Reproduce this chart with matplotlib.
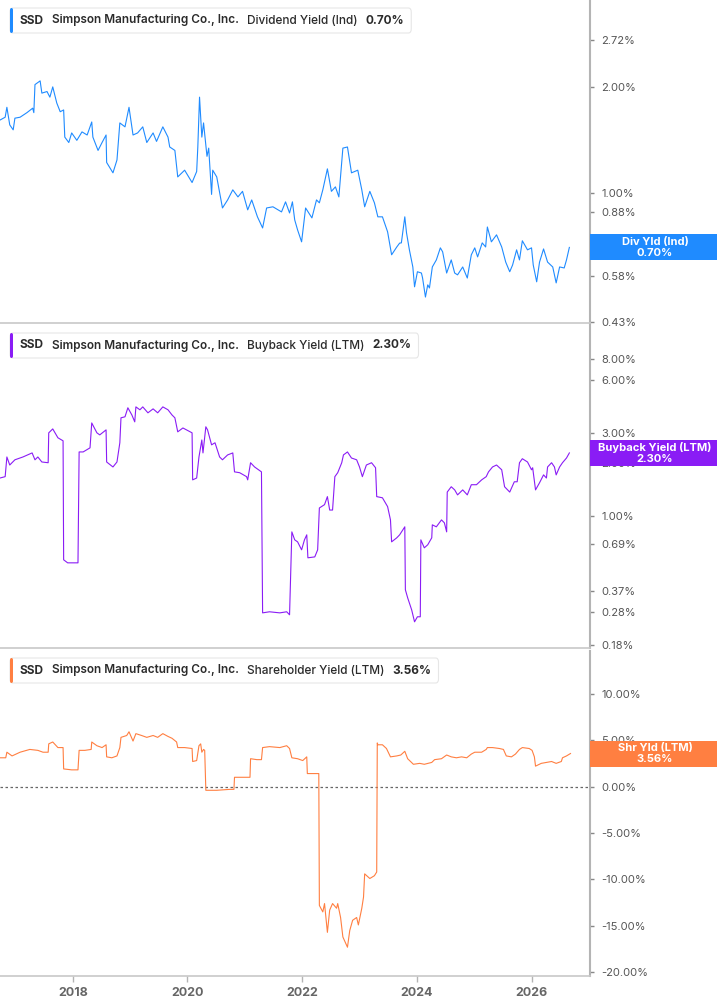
import matplotlib
matplotlib.use('Agg')
import matplotlib.pyplot as plt
from matplotlib.patches import FancyBboxPatch, Rectangle
from matplotlib.ticker import FixedLocator, NullLocator

plt.rcParams['font.family'] = ['Inter', 'DejaVu Sans']

# 股息率 (Ind), %
div_years = [2016.73, 2016.82, 2016.85, 2016.90, 2016.96, 2016.99, 2017.08, 2017.20, 2017.30, 2017.32,
             2017.34, 2017.43, 2017.46, 2017.55, 2017.60, 2017.65, 2017.72, 2017.78, 2017.84, 2017.86,
             2017.93, 2017.98, 2018.07, 2018.16, 2018.25, 2018.33, 2018.35, 2018.44, 2018.51, 2018.58,
             2018.59, 2018.70, 2018.77, 2018.82, 2018.91, 2018.98, 2019.05, 2019.13, 2019.22, 2019.29,
             2019.40, 2019.46, 2019.57, 2019.66, 2019.69, 2019.78, 2019.83, 2019.95, 2020.08, 2020.16,
             2020.18, 2020.21, 2020.25, 2020.28, 2020.34, 2020.37, 2020.42, 2020.44, 2020.51, 2020.61,
             2020.70, 2020.79, 2020.88, 2020.96, 2021.05, 2021.12, 2021.22, 2021.31, 2021.38, 2021.49,
             2021.64, 2021.71, 2021.78, 2021.83, 2021.87, 2021.92, 2021.99, 2022.06, 2022.17, 2022.25,
             2022.30, 2022.36, 2022.44, 2022.51, 2022.58, 2022.64, 2022.71, 2022.79, 2022.86, 2022.97,
             2023.04, 2023.09, 2023.18, 2023.26, 2023.32, 2023.40, 2023.49, 2023.56, 2023.65, 2023.70,
             2023.73, 2023.79, 2023.82, 2023.87, 2023.93, 2023.96, 2024.01, 2024.08, 2024.10, 2024.15,
             2024.19, 2024.22, 2024.27, 2024.34, 2024.41, 2024.45, 2024.52, 2024.60, 2024.66, 2024.71,
             2024.80, 2024.88, 2024.95, 2025.01, 2025.06, 2025.14, 2025.20, 2025.23, 2025.30, 2025.39,
             2025.48, 2025.55, 2025.62, 2025.67, 2025.74, 2025.79, 2025.84, 2025.93, 2026.00, 2026.03,
             2026.09, 2026.14, 2026.21, 2026.28, 2026.37, 2026.43, 2026.49, 2026.57, 2026.61, 2026.66]
div_vals = [1.61, 1.64, 1.75, 1.56, 1.51, 1.63, 1.64, 1.69, 1.74, 1.69,
            2.03, 2.08, 1.92, 1.94, 1.87, 2.00, 1.80, 1.70, 1.72, 1.44,
            1.39, 1.48, 1.41, 1.49, 1.46, 1.59, 1.44, 1.32, 1.39, 1.46,
            1.22, 1.14, 1.24, 1.58, 1.54, 1.75, 1.46, 1.48, 1.54, 1.39,
            1.48, 1.40, 1.54, 1.44, 1.35, 1.32, 1.11, 1.16, 1.07, 1.15,
            1.35, 1.87, 1.44, 1.58, 1.27, 1.34, 0.99, 1.16, 1.11, 0.906,
            0.955, 1.02, 0.974, 1.01, 0.895, 0.955, 0.855, 0.795, 0.906, 0.913,
            0.883, 0.943, 0.877, 0.943, 0.838, 0.785, 0.726, 0.906, 0.849, 0.955,
            0.937, 1.02, 1.17, 1.01, 1.04, 0.974, 1.34, 1.35, 1.14, 1.16,
            1.02, 0.913, 1.01, 0.937, 0.855, 0.855, 0.775, 0.667, 0.702, 0.72,
            0.721, 0.855, 0.770, 0.689, 0.616, 0.541, 0.597, 0.592, 0.573, 0.506,
            0.548, 0.537, 0.616, 0.645, 0.698, 0.680, 0.592, 0.645, 0.592, 0.585,
            0.616, 0.573, 0.667, 0.698, 0.658, 0.721, 0.702, 0.800, 0.726, 0.760,
            0.702, 0.636, 0.597, 0.624, 0.689, 0.645, 0.731, 0.689, 0.698, 0.624,
            0.559, 0.636, 0.693, 0.636, 0.616, 0.555, 0.616, 0.612, 0.645, 0.70]

# 回购收益率 (LTM), %
bb_years = [2016.73, 2016.82, 2016.85, 2016.90, 2016.99, 2017.13, 2017.29, 2017.34, 2017.39, 2017.46,
            2017.57, 2017.58, 2017.65, 2017.74, 2017.83, 2017.84, 2017.91, 2018.09, 2018.11, 2018.18,
            2018.30, 2018.33, 2018.42, 2018.47, 2018.58, 2018.59, 2018.70, 2018.77, 2018.82, 2018.84,
            2018.91, 2018.96, 2019.03, 2019.08, 2019.10, 2019.17, 2019.22, 2019.31, 2019.40, 2019.48,
            2019.57, 2019.66, 2019.73, 2019.78, 2019.83, 2019.92, 2020.08, 2020.09, 2020.16, 2020.20,
            2020.25, 2020.27, 2020.32, 2020.35, 2020.42, 2020.48, 2020.56, 2020.61, 2020.70, 2020.79,
            2020.82, 2020.91, 2021.03, 2021.05, 2021.10, 2021.17, 2021.29, 2021.31, 2021.43, 2021.61,
            2021.73, 2021.78, 2021.82, 2021.87, 2021.92, 2021.99, 2022.04, 2022.08, 2022.10, 2022.22,
            2022.27, 2022.30, 2022.39, 2022.44, 2022.48, 2022.53, 2022.57, 2022.62, 2022.69, 2022.72,
            2022.79, 2022.86, 2022.95, 2023.00, 2023.05, 2023.12, 2023.21, 2023.28, 2023.30, 2023.40,
            2023.49, 2023.54, 2023.56, 2023.65, 2023.70, 2023.79, 2023.80, 2023.84, 2023.91, 2023.96,
            2024.01, 2024.06, 2024.07, 2024.13, 2024.19, 2024.26, 2024.27, 2024.34, 2024.43, 2024.48,
            2024.52, 2024.53, 2024.60, 2024.66, 2024.71, 2024.80, 2024.88, 2024.95, 2025.04, 2025.13,
            2025.21, 2025.25, 2025.32, 2025.39, 2025.48, 2025.53, 2025.62, 2025.70, 2025.75, 2025.79,
            2025.84, 2025.93, 2026.00, 2026.02, 2026.07, 2026.14, 2026.21, 2026.26, 2026.28, 2026.35,
            2026.40, 2026.43, 2026.49, 2026.54, 2026.61, 2026.66]
bb_vals = [1.65, 1.68, 2.18, 1.96, 2.10, 2.18, 2.30, 2.10, 2.18, 2.04,
           2.02, 3.00, 3.16, 2.81, 2.70, 0.559, 0.537, 0.537, 2.33, 2.33,
           2.46, 3.42, 3.00, 2.92, 3.12, 2.04, 1.91, 2.04, 2.63, 3.66,
           3.71, 4.18, 3.80, 3.47, 4.23, 4.07, 4.23, 3.91, 4.12, 3.91,
           4.23, 4.07, 3.80, 3.66, 3.04, 3.20, 3.00, 1.61, 1.65, 2.18,
           2.73, 2.30, 3.25, 3.12, 2.56, 2.63, 2.18, 2.10, 2.24, 2.30,
           1.79, 1.77, 1.68, 1.61, 2.02, 1.91, 1.79, 0.277, 0.281, 0.277,
           0.281, 0.270, 0.809, 0.728, 0.709, 0.638, 0.728, 0.778, 0.574, 0.581,
           0.638, 1.11, 1.16, 1.29, 1.08, 1.08, 1.68, 1.77, 2.02, 2.24,
           2.33, 2.15, 2.10, 1.91, 1.68, 1.96, 2.02, 1.89, 1.29, 1.27,
           1.13, 0.948, 0.709, 0.748, 0.778, 0.865, 0.376, 0.338, 0.288, 0.246,
           0.263, 0.263, 0.728, 0.655, 0.682, 0.748, 0.888, 0.865, 0.948, 0.912,
           0.809, 1.37, 1.47, 1.41, 1.32, 1.41, 1.32, 1.51, 1.51, 1.61,
           1.68, 1.79, 1.91, 1.96, 1.84, 1.47, 1.37, 1.57, 1.57, 2.02,
           2.13, 2.04, 1.84, 1.89, 1.41, 1.55, 1.72, 1.65, 1.91, 2.02,
           1.91, 1.72, 1.91, 2.02, 2.15, 2.30]

# 股东收益率 (LTM), %
sh_years = [2016.73, 2016.83, 2016.85, 2016.94, 2017.08, 2017.25, 2017.39, 2017.48, 2017.57, 2017.58,
            2017.65, 2017.74, 2017.83, 2017.84, 2017.98, 2018.09, 2018.11, 2018.21, 2018.32, 2018.33,
            2018.42, 2018.51, 2018.58, 2018.59, 2018.68, 2018.77, 2018.82, 2018.84, 2018.94, 2018.98,
            2019.05, 2019.10, 2019.20, 2019.29, 2019.40, 2019.48, 2019.57, 2019.66, 2019.73, 2019.81,
            2019.83, 2019.95, 2020.08, 2020.09, 2020.16, 2020.20, 2020.23, 2020.25, 2020.28, 2020.30,
            2020.32, 2020.51, 2020.74, 2020.81, 2020.82, 2020.96, 2021.09, 2021.10, 2021.21, 2021.29,
            2021.31, 2021.43, 2021.61, 2021.73, 2021.78, 2021.82, 2021.92, 2022.01, 2022.08, 2022.09,
            2022.18, 2022.29, 2022.30, 2022.36, 2022.39, 2022.44, 2022.48, 2022.53, 2022.60, 2022.62,
            2022.67, 2022.71, 2022.76, 2022.79, 2022.83, 2022.88, 2022.95, 2022.98, 2023.04, 2023.07,
            2023.09, 2023.18, 2023.26, 2023.30, 2023.31, 2023.32, 2023.40, 2023.47, 2023.54, 2023.65,
            2023.72, 2023.79, 2023.84, 2023.94, 2024.05, 2024.13, 2024.26, 2024.31, 2024.43, 2024.52,
            2024.60, 2024.69, 2024.78, 2024.87, 2024.95, 2025.01, 2025.13, 2025.21, 2025.23, 2025.32,
            2025.44, 2025.51, 2025.56, 2025.65, 2025.72, 2025.79, 2025.84, 2025.96, 2026.01, 2026.05,
            2026.07, 2026.17, 2026.26, 2026.35, 2026.43, 2026.52, 2026.54, 2026.61, 2026.68]
sh_vals = [3.1, 3.1, 3.7, 3.3, 3.7, 4.0, 3.9, 3.7, 3.7, 4.6,
           4.8, 4.2, 4.2, 1.9, 1.8, 1.8, 3.9, 3.9, 4.0, 4.8,
           4.4, 4.2, 4.5, 3.2, 3.1, 3.3, 4.2, 5.3, 5.5, 5.9,
           4.9, 5.7, 5.5, 5.3, 5.5, 5.3, 5.7, 5.4, 5.2, 4.8,
           4.2, 4.2, 4.1, 2.7, 2.8, 4.4, 4.6, 3.7, 4.0, 3.9,
           -0.4, -0.4, -0.3, -0.3, 1.0, 1.0, 1.0, 3.0, 2.9, 2.9,
           4.2, 4.3, 4.2, 4.4, 4.1, 3.1, 3.0, 2.8, 3.2, 1.4,
           1.4, 1.4, -12.8, -13.5, -12.6, -15.7, -13.3, -12.6, -13.1, -12.6,
           -14.1, -16.2, -16.9, -17.3, -15.5, -14.4, -14.1, -14.9, -13.1, -11.9,
           -9.4, -9.9, -9.6, -9.2, 4.7, 4.5, 4.5, 4.1, 3.2, 3.3,
           3.4, 3.8, 3.0, 2.4, 2.5, 2.4, 2.6, 2.9, 3.0, 3.4,
           3.2, 3.1, 3.2, 3.1, 3.5, 3.7, 3.7, 4.0, 4.2, 4.2,
           4.1, 4.0, 3.3, 3.2, 3.5, 4.0, 4.2, 4.1, 3.9, 3.2,
           2.2, 2.5, 2.6, 2.7, 2.5, 2.7, 3.1, 3.3, 3.56]

div_ticks = [0.43, 0.58, 0.73, 0.88, 1.00, 2.00, 2.72]
bb_ticks = [0.18, 0.28, 0.37, 0.69, 1.00, 2.00, 3.00, 6.00, 8.00]
sh_ticks = [-20, -15, -10, -5, 0, 5, 10]
year_ticks = [2018, 2020, 2022, 2024, 2026]

ticker = 'SSD'
company = 'Simpson Manufacturing Co., Inc.'
metrics = ['Dividend Yield (Ind)', 'Buyback Yield (LTM)', 'Shareholder Yield (LTM)']
last_vals = [0.70, 2.30, 3.56]
flag_names = ['Div Yld (Ind)', 'Buyback Yield (LTM)', 'Shr Yld (LTM)']
colors = ['#1f8bff', '#8a1cf5', '#ff7f41']

W, H = 717, 1005
fig = plt.figure(figsize=(W / 100, H / 100), dpi=100)

def fpos(left, top, right, bottom):
    return [left / W, 1 - bottom / H, (right - left) / W, (bottom - top) / H]

ax1 = fig.add_axes(fpos(0, 0, 590, 323))
ax2 = fig.add_axes(fpos(0, 325, 590, 648))
ax3 = fig.add_axes(fpos(0, 651, 590, 976))
axes = [ax1, ax2, ax3]

ax1.plot(div_years, div_vals, color=colors[0], lw=0.8)
ax2.plot(bb_years, bb_vals, color=colors[1], lw=0.8)
ax3.plot(sh_years, sh_vals, color=colors[2], lw=0.8)
ax3.axhline(0, color='#666666', lw=0.9, ls=(0, (2, 2)), zorder=1)

ax1.set_yscale('log')
ax2.set_yscale('log')
ax1.set_ylim(0.427, 3.53)
ax2.set_ylim(0.174, 12.5)
ax3.set_ylim(-20.4, 14.6)

for ax, ticks in zip(axes, [div_ticks, bb_ticks, sh_ticks]):
    ax.set_xlim(2016.73, 2027.02)
    ax.yaxis.set_major_locator(FixedLocator(ticks))
    ax.yaxis.set_minor_locator(NullLocator())
    ax.set_yticklabels([f'{t:.2f}%' for t in ticks])
    ax.yaxis.tick_right()
    ax.tick_params(axis='y', which='both', direction='out', length=3, width=1,
                   color='#888888', labelsize=8, labelcolor='#555555', pad=5)
    for s in ['top', 'left']:
        ax.spines[s].set_visible(False)
    ax.spines['right'].set_color('#b4b4b4')
    ax.spines['right'].set_linewidth(1.5)
    ax.spines['bottom'].set_color('#c8c8c8')
    ax.spines['bottom'].set_linewidth(1.2)
    ax.set_facecolor('none')

for ax in [ax1, ax2]:
    ax.set_xticks([])

ax3.set_xticks(year_ticks)
ax3.set_xticklabels([str(y) for y in year_ticks])
ax3.tick_params(axis='x', direction='out', length=4, width=1, color='#b4b4b4',
                labelsize=9, labelcolor='#666666', pad=4)
for lab in ax3.get_xticklabels():
    lab.set_fontweight('bold')

# 右侧数值标签 (盖住同高度的刻度文字, 与原图一致)
flag_h = 26 / H
for ax, val, name, col in zip(axes, last_vals, flag_names, colors):
    yfig = fig.transFigure.inverted().transform(ax.transData.transform((2026.0, val)))[1]
    fig.patches.append(Rectangle((590 / W, yfig - flag_h / 2), 1 - 590 / W, flag_h,
                                 transform=fig.transFigure, facecolor=col, edgecolor='none',
                                 zorder=5))
    fig.text(655 / W, yfig, f'{name}\n{val:.2f}%', ha='center', va='center', color='white',
             fontsize=8, fontweight='bold', linespacing=1.05, zorder=6)

# 图例框
renderer = fig.canvas.get_renderer()
for top, metric, val, col in zip([8, 333, 658], metrics, last_vals, colors):
    ymid = 1 - (top + 12.5) / H
    x = 20
    parts = [(ticker, 'bold'), (company, 'semibold'), (metric, 'medium'), (f'{val:.2f}%', 'bold')]
    for txt, wt in parts:
        t = fig.text(x / W, ymid, txt, ha='left', va='center', fontsize=8.5, fontweight=wt,
                     color='#2b2b2b', zorder=6)
        bb = t.get_window_extent(renderer)
        x = bb.x1 + 8
    right = x - 8 + 7
    fig.patches.append(FancyBboxPatch((10 / W, 1 - (top + 25) / H), (right - 10) / W, 25 / H,
                                      boxstyle='round,pad=0,rounding_size=0.004',
                                      transform=fig.transFigure, facecolor='white',
                                      edgecolor='#e6e6e6', lw=0.8, zorder=4))
    fig.patches.append(FancyBboxPatch((10 / W, 1 - (top + 25) / H), 3 / W, 25 / H,
                                      boxstyle='round,pad=0,rounding_size=0.002',
                                      transform=fig.transFigure, facecolor=col,
                                      edgecolor='none', zorder=5))

fig.savefig('out.png', dpi=100)
